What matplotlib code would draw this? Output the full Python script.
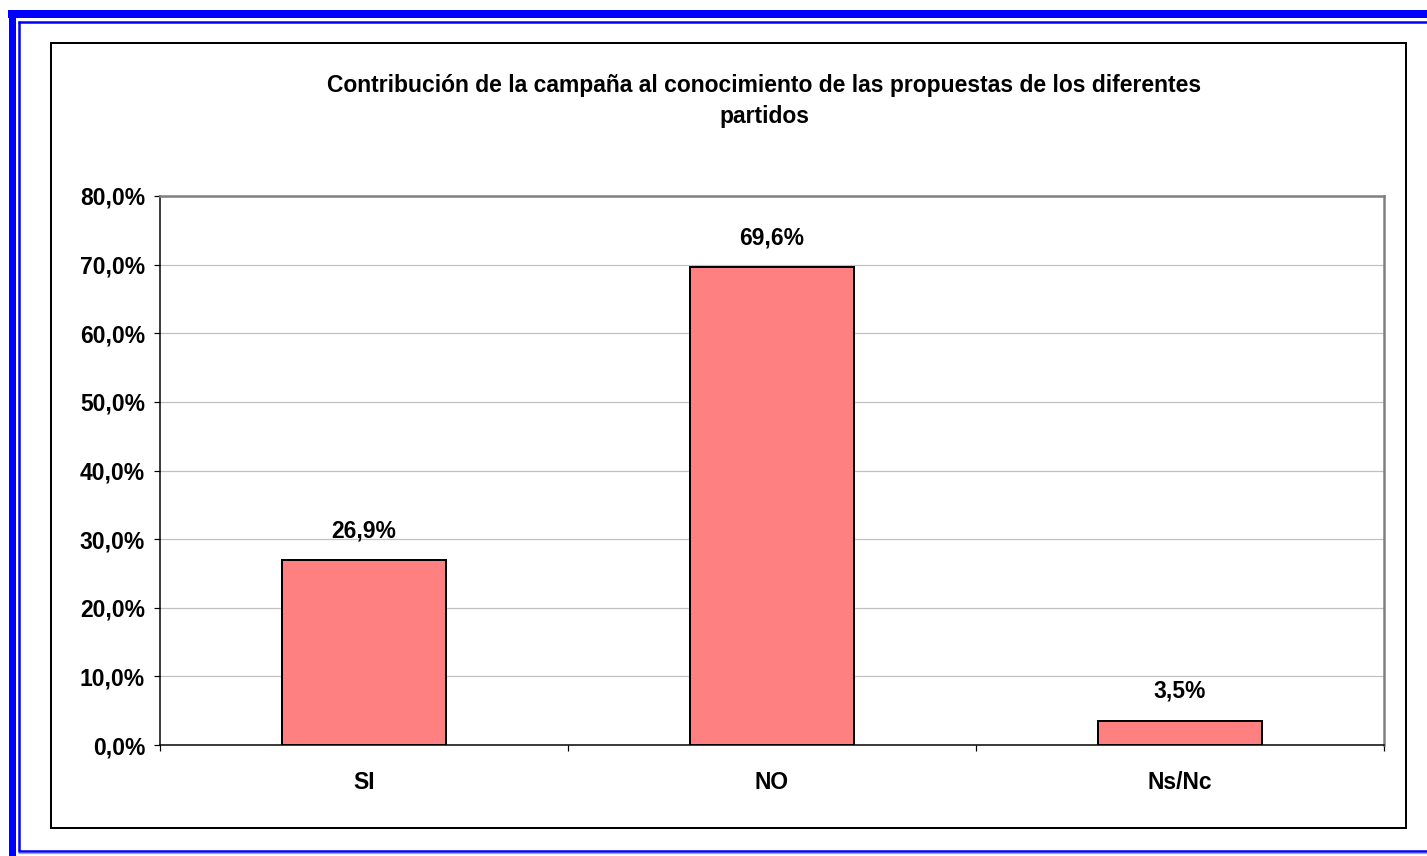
import matplotlib
matplotlib.use("Agg")
import matplotlib.pyplot as plt
from matplotlib.lines import Line2D
from matplotlib.patches import Rectangle
from matplotlib.ticker import FixedLocator

plt.rcParams['font.family'] = ['Liberation Sans', 'DejaVu Sans']
plt.rcParams['font.weight'] = 'bold'

categories = ["SI", "NO", "Ns/Nc"]
values = [26.9, 69.6, 3.5]
value_labels = ["26,9%", "69,6%", "3,5%"]
y_ticks = [0, 10, 20, 30, 40, 50, 60, 70, 80]
y_tick_labels = ["0,0%", "10,0%", "20,0%", "30,0%", "40,0%", "50,0%", "60,0%", "70,0%", "80,0%"]
title_text = "Contribución de la campaña al conocimiento de las propuestas de los diferentes\npartidos"

W, H = 1427, 856
fig = plt.figure(figsize=(W / 100, H / 100), dpi=100)
fig.patch.set_facecolor("white")

def fx(px):
    return px / W

def fy(py):
    return 1 - py / H

def pw(px):
    return px * 72 / 100

# blue page border
blue = "#0000FF"
fig.add_artist(Line2D([fx(8), fx(W)], [fy(14), fy(14)], color=blue, lw=pw(8), solid_capstyle="butt"))
fig.add_artist(Line2D([fx(11.5), fx(11.5)], [fy(10), fy(H)], color=blue, lw=pw(7), solid_capstyle="butt"))
fig.add_artist(Line2D([fx(18), fx(W)], [fy(22), fy(22)], color=blue, lw=pw(2.5), solid_capstyle="butt"))
fig.add_artist(Line2D([fx(19), fx(19)], [fy(21), fy(851)], color=blue, lw=pw(2.5), solid_capstyle="butt"))
fig.add_artist(Line2D([fx(18), fx(W)], [fy(850.5), fy(850.5)], color=blue, lw=pw(2.5), solid_capstyle="butt"))
fig.add_artist(Line2D([fx(18), fx(W)], [fy(852.5), fy(852.5)], color="#9999FF", lw=pw(1.2), solid_capstyle="butt"))

# chart frame
fig.add_artist(Rectangle((fx(51), fy(828)), fx(1406) - fx(51), fy(43) - fy(828),
                         fill=False, edgecolor="black", lw=pw(2)))

ax = fig.add_axes([fx(160), fy(745), fx(1384) - fx(160), fy(196) - fy(745)])
x = list(range(len(categories)))
ax.bar(x, values, width=0.4, color="#FF8080", edgecolor="black", linewidth=pw(2), zorder=3)
ax.set_xlim(-0.5, len(categories) - 0.5)
ax.set_ylim(0, 80)

ax.set_yticks(y_ticks)
ax.set_yticklabels(y_tick_labels, fontsize=16.5, fontweight="bold")
ax.yaxis.grid(True, color="#C0C0C0", linewidth=pw(1.2), zorder=0)
ax.set_axisbelow(True)
ax.tick_params(axis="y", direction="out", length=pw(6), width=pw(1.2), pad=pw(9), colors="black")

ax.set_xticks(x)
ax.set_xticklabels(categories, fontsize=16.5, fontweight="bold")
ax.tick_params(axis="x", which="major", length=0, pad=pw(26))
ax.xaxis.set_minor_locator(FixedLocator([-0.5, 0.5, 1.5, 2.5]))
ax.tick_params(axis="x", which="minor", direction="out", length=pw(6), width=pw(1.2), colors="black")

for s in ["left", "bottom"]:
    ax.spines[s].set_color("black")
    ax.spines[s].set_linewidth(pw(1.5))
for s in ["top", "right"]:
    ax.spines[s].set_color("#808080")
    ax.spines[s].set_linewidth(pw(2.5))

for xi, v, lab in zip(x, values, value_labels):
    ax.annotate(lab, (xi, v), xytext=(0, pw(18)), textcoords="offset points",
                ha="center", va="bottom", fontsize=16.5, fontweight="bold")

fig.text(fx(764), fy(101), title_text, ha="center", va="center", fontsize=16.5,
         fontweight="bold", linespacing=1.45)

fig.savefig("out.png", dpi=100, facecolor="white")
